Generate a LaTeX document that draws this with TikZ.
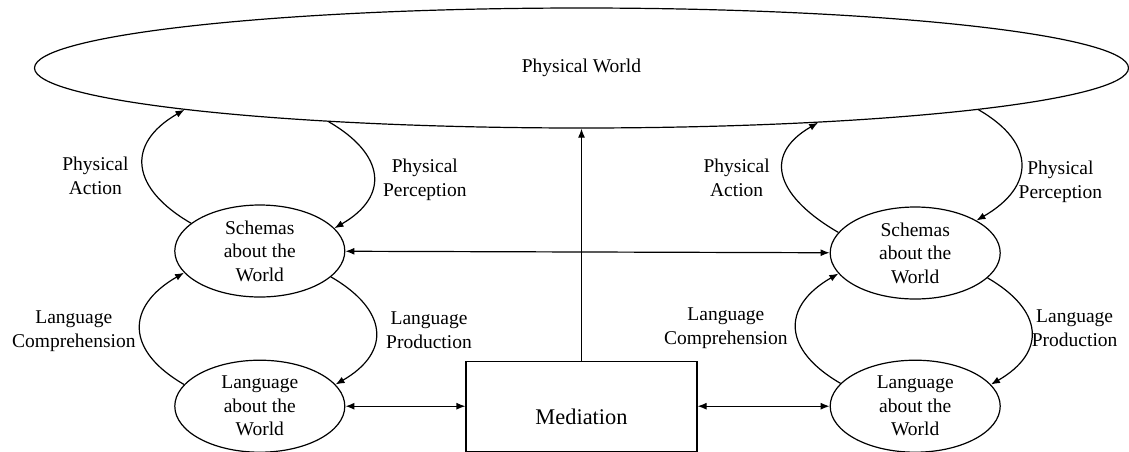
\documentclass[tikz,border=0pt]{standalone}
\usepackage{fontspec}
\setmainfont{Liberation Serif}
\usetikzlibrary{shapes.geometric, arrows.meta, positioning}
\tikzstyle{bigworld} = [ellipse, draw, minimum width=547pt, minimum height=60pt, inner sep=0pt, font=\fontsize{9.75}{12}\selectfont]
\tikzstyle{concept} = [ellipse, draw, minimum width=85pt, minimum height=46pt, inner sep=0pt, align=center, font=\fontsize{9.75}{11.75}\selectfont]
\tikzstyle{medbox} = [rectangle, draw, minimum width=115.5pt, minimum height=45pt, text height=18pt, text depth=0pt, font=\fontsize{11.2}{13}\selectfont]
\tikzstyle{arrow} = [->, >={Latex[length=4.5pt,width=3.5pt]}]
\tikzstyle{dblarrow} = [<->, >={Latex[length=4.5pt,width=3.5pt]}]
\tikzstyle{loopleft} = [arrow, out=150, in=210, looseness=1.55]
\tikzstyle{loopright} = [arrow, out=-30, in=30, looseness=1.55]
\tikzstyle{lbl} = [align=center, inner sep=0pt, font=\fontsize{9.75}{12}\selectfont]
\begin{document}
\begin{tikzpicture}[x=0.5pt, y=-0.5pt, semithick]
  \useasboundingbox (0,0) rectangle (1129,451);

  % World
  \node[bigworld] (world) at (581.5,68) {Physical World};

  % Mediation
  \node[medbox, below=116pt of world] (mediation) {Mediation};

  % Left agent
  \node[concept, left=60pt of mediation] (langL) {Language\\about the\\World};
  \node[concept, above=31pt of langL] (schemasL) {Schemas\\about the\\World};

  % Right agent
  \node[concept, right=66pt of mediation] (langR) {Language\\about the\\World};
  \node[concept, above=30pt of langR] (schemasR) {Schemas\\about the\\World};

  % Loops, left
  \draw[loopleft] (schemasL.158) to node[lbl, left=7pt, yshift=-4.5pt]{Physical\\Action} (world.186);
  \draw[loopright] (world.192) to node[lbl, right=4.5pt, yshift=-2.5pt]{Physical\\Perception} (schemasL.17);
  \draw[loopleft] (langL.164) to node[lbl, left=2pt, yshift=-1.5pt]{Language\\Comprehension} (schemasL.196);
  \draw[loopright] (schemasL.340) to node[lbl, right=5pt]{Language\\Production} (langL.16);

  % Loops, right
  \draw[loopleft] (schemasR.165) to node[lbl, left=7pt]{Physical\\Action} (world.347);
  \draw[loopright] (world.354) to node[lbl, right=-1.5pt, yshift=-8.5pt]{Physical\\Perception} (schemasR.28);
  \draw[loopleft] (langR.163) to node[lbl, left=4pt]{Language\\Comprehension} (schemasR.195);
  \draw[loopright] (schemasR.341) to node[lbl, right=0pt, yshift=1.5pt]{Language\\Production} (langR.16);

  % Connections
  \draw[dblarrow] (schemasL) -- (schemasR);
  \draw[dblarrow] (langL) -- (mediation);
  \draw[dblarrow] (mediation) -- (langR);
  \draw[arrow] (mediation) -- (world);
\end{tikzpicture}
\end{document}
